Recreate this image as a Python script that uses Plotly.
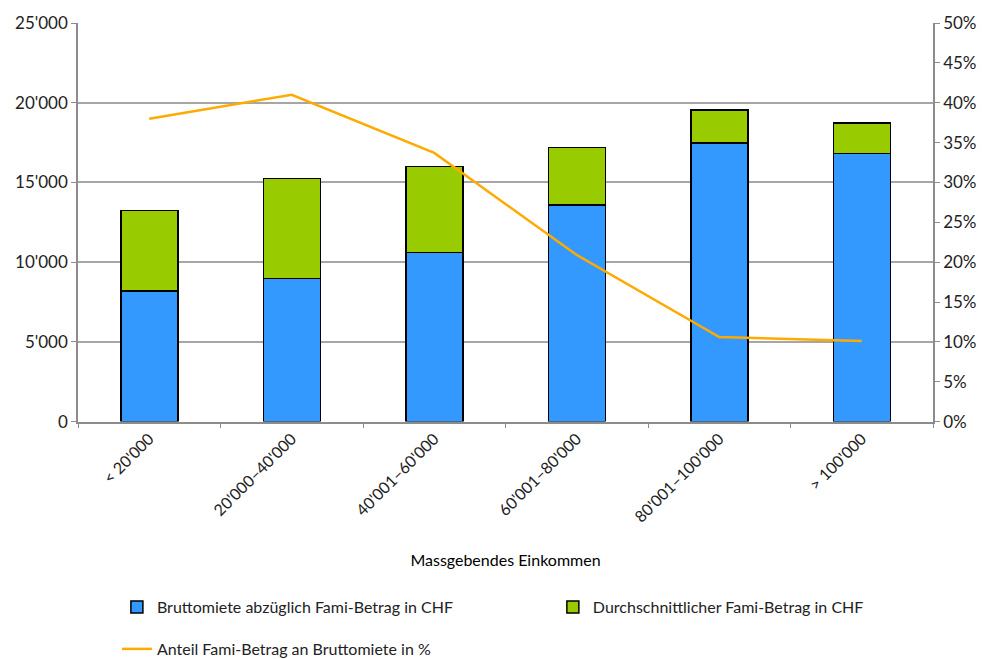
import plotly.graph_objects as go

categories = ["< 20'000", "20'000–40'000", "40'001–60'000", "60'001–80'000", "80'001–100'000", "> 100'000"]
netto_rent = [8190, 8980, 10600, 13580, 17460, 16820]
fami_amount = [5060, 6260, 5400, 3620, 2080, 1900]
fami_share = [0.380, 0.410, 0.337, 0.209, 0.106, 0.101]

FONT = "Lato"
blue = "#3399FF"
green = "#99CC00"
orange = "#FFAA00"
grid = "#A6A6A6"
axis = "#8C8C8C"

fig = go.Figure()
fig.add_trace(go.Bar(x=categories, y=netto_rent, name="Bruttomiete abzüglich Fami-Betrag in CHF",
                     marker=dict(color=blue, line=dict(color="black", width=1.5)), width=0.4,
                     legend="legend"))
fig.add_trace(go.Bar(x=categories, y=fami_amount, name="Durchschnittlicher Fami-Betrag in CHF",
                     marker=dict(color=green, line=dict(color="black", width=1.5)), width=0.4,
                     legend="legend2"))
fig.add_trace(go.Scatter(x=categories, y=fami_share, name="Anteil Fami-Betrag an Bruttomiete in %",
                         mode="lines", line=dict(color=orange, width=2.5), yaxis="y2",
                         legend="legend3"))

leg_font = dict(size=16, color="#222222")
dom = [147 / 547, 1]
fig.update_layout(
    width=989, height=659,
    margin=dict(l=78, r=54, t=22, b=90),
    barmode="stack",
    separators=".'",
    plot_bgcolor="white", paper_bgcolor="white",
    font=dict(family=FONT, size=16, color="#222222"),
    xaxis=dict(tickangle=-45, tickson="boundaries", ticks="outside", ticklen=5, tickcolor=axis,
               showline=True, linecolor=axis, linewidth=1.5, showgrid=False, automargin=False,
               title=dict(text="Massgebendes Einkommen", font=dict(size=16, color="black"), standoff=30),
               tickfont=dict(size=16)),
    yaxis=dict(domain=dom, range=[0, 25000], dtick=5000, tickformat=",d", ticks="outside", ticklen=5,
               tickcolor=axis, showline=True, linecolor=axis, linewidth=1.5,
               showgrid=True, gridcolor=grid, gridwidth=1.5, zeroline=False,
               tickfont=dict(size=17)),
    yaxis2=dict(domain=dom, range=[0, 0.5], dtick=0.05, tickformat=".0%", overlaying="y", side="right",
                ticks="outside", ticklen=5, tickcolor=axis, showline=True, linecolor=axis,
                linewidth=1.5, showgrid=False, zeroline=False, tickfont=dict(size=17)),
    legend=dict(orientation="h", x=0.0455, y=0.0789, xanchor="left", yanchor="middle",
                yref="container", font=leg_font),
    legend2=dict(orientation="h", x=0.5554, y=0.0789, xanchor="left", yanchor="middle",
                 yref="container", font=leg_font),
    legend3=dict(orientation="h", x=0.0455, y=0.0152, xanchor="left", yanchor="middle",
                 yref="container", font=leg_font),
    showlegend=True,
)

fig.write_html("out.html")
